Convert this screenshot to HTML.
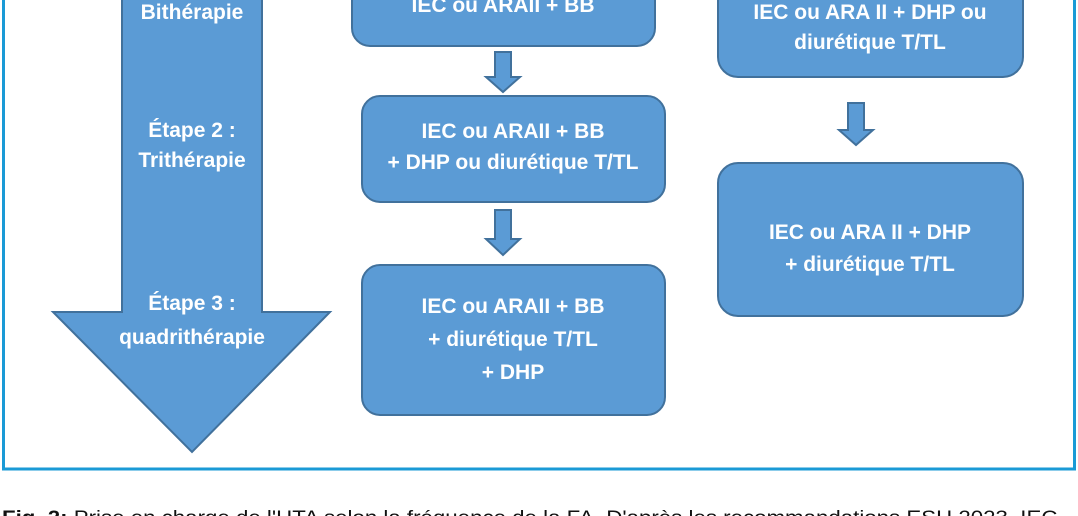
<!DOCTYPE html>
<html><head><meta charset="utf-8"><style>
html,body{margin:0;padding:0;background:#fff;width:1078px;height:516px;overflow:hidden}
svg{display:block}
text{font-family:"Liberation Sans",sans-serif;}
.w{fill:#fff;font-weight:bold;font-size:21px;text-anchor:middle}
</style></head><body>
<svg width="1078" height="516" viewBox="0 0 1078 516">
<rect x="3.5" y="-10" width="1071" height="479" fill="none" stroke="#1a9ad6" stroke-width="3"/>
<g fill="#5b9bd5" stroke="#41719c" stroke-width="2">
<path d="M122,-10 H262 V312 H330 L192,452 L53,312 H122 Z"/>
<rect x="352" y="-30" width="303" height="76" rx="18"/>
<rect x="362" y="96" width="303" height="106" rx="18"/>
<rect x="362" y="265" width="303" height="150" rx="18"/>
<rect x="718" y="-30" width="305" height="107" rx="20"/>
<rect x="718" y="163" width="305" height="153" rx="20"/>
<path d="M495,52 H511 V77 H520 L503,92 L486,77 H495 Z"/>
<path d="M495,210 H511 V239 H520 L503,255 L486,239 H495 Z"/>
<path d="M848,103 H864 V130 H873 L856,145 L839,130 H848 Z"/>
</g>
<text class="w" x="192" y="19">Bithérapie</text>
<text class="w" x="192" y="137">Étape 2 :</text>
<text class="w" x="192" y="167">Trithérapie</text>
<text class="w" x="192" y="310">Étape 3 :</text>
<text class="w" x="192" y="344">quadrithérapie</text>
<text class="w" x="503" y="12">IEC ou ARAII + BB</text>
<text class="w" x="513" y="138">IEC ou ARAII + BB</text>
<text class="w" x="513" y="169">+ DHP ou diurétique T/TL</text>
<text class="w" x="513" y="313">IEC ou ARAII + BB</text>
<text class="w" x="513" y="346">+ diurétique T/TL</text>
<text class="w" x="513" y="379">+ DHP</text>
<text class="w" x="870" y="19">IEC ou ARA II + DHP ou</text>
<text class="w" x="870" y="49">diurétique T/TL</text>
<text class="w" x="870" y="239">IEC ou ARA II + DHP</text>
<text class="w" x="870" y="271">+ diurétique T/TL</text>
<text x="2" y="524" font-size="19" fill="#111" textLength="1074" lengthAdjust="spacingAndGlyphs"><tspan font-weight="bold">Fig. 2:</tspan> Prise en charge de l'HTA selon la fréquence de la FA. D'après les recommandations ESH 2023. IEC –</text>
</svg>
</body></html>
